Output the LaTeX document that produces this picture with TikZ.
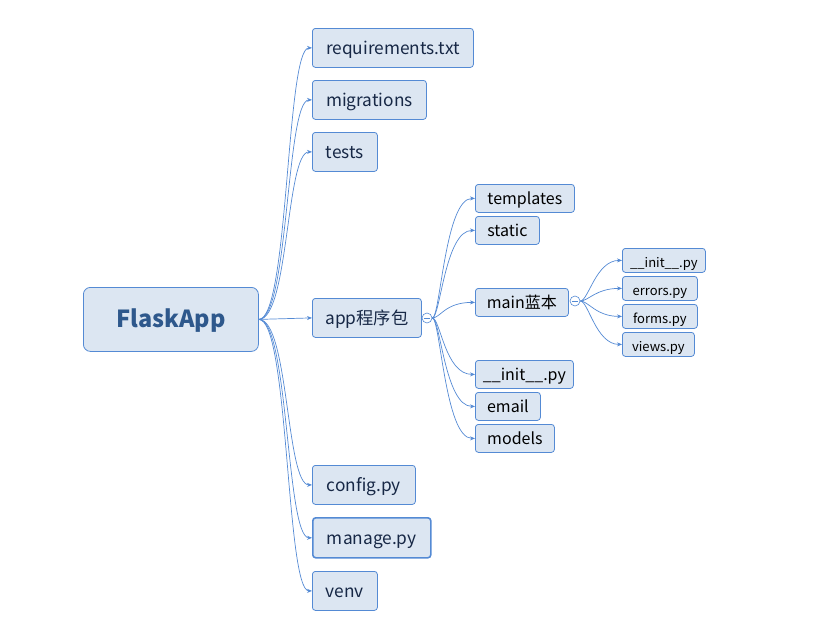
\documentclass[tikz,border=0pt]{standalone}
\usepackage{fontspec}
\setmainfont{Noto Sans CJK SC}
\usetikzlibrary{arrows.meta,calc}
\definecolor{bfill}{RGB}{220,230,242}
\definecolor{bline}{RGB}{84,138,212}
\definecolor{tdark}{RGB}{23,40,70}
\definecolor{troot}{RGB}{46,88,140}
\tikzset{
  base/.style={draw=bline, fill=bfill, rounded corners=3pt, anchor=north west, inner sep=0pt, line width=0.8pt},
  rootbox/.style={base, rounded corners=7pt, text=troot, font=\fontsize{23.5}{26}\selectfont\bfseries, text height=19pt, text depth=3.3pt},
  lvone/.style={base, text=tdark, font=\fontsize{17.3}{19}\selectfont, text height=15.6pt, text depth=2.4pt},
  lvtwo/.style={base, text=black, font=\fontsize{16}{18}\selectfont, text height=15pt, text depth=2.2pt},
  lvthree/.style={base, text=black, font=\fontsize{13}{15}\selectfont, text height=16pt, text depth=2pt},
  conn/.style={draw=bline, line width=0.7pt, -{Stealth[length=5pt,width=4pt]}},
  knob/.style={circle, draw=bline, fill=white, line width=0.6pt, minimum size=10pt, inner sep=0pt}
}
\begin{document}
\begin{tikzpicture}[x=1pt,y=-1pt]
\useasboundingbox (0,0) rectangle (828,629);
% root
\node[rootbox, minimum width=175, minimum height=64] (root) at (83,287) {FlaskApp};
% level 1
\node[lvone, minimum width=161, minimum height=39] (req) at (312,28) {requirements.txt};
\node[lvone, minimum width=114, minimum height=39] (mig) at (312,80) {migrations};
\node[lvone, minimum width=65, minimum height=39] (tst) at (312,132) {tests};
\node[lvone, minimum width=109, minimum height=39] (app) at (312,298) {app程序包};
\node[lvone, minimum width=103, minimum height=39] (cfg) at (312,465) {config.py};
\node[lvone, minimum width=118, minimum height=40, line width=1.6pt] (mng) at (312,517) {manage.py};
\node[lvone, minimum width=65, minimum height=39] (venv) at (312,571) {venv};
% level 2
\node[lvtwo, minimum width=99, minimum height=28] (tpl) at (475,184) {templates};
\node[lvtwo, minimum width=64, minimum height=28] (sta) at (475,216) {static};
\node[lvtwo, minimum width=93, minimum height=28] (mainb) at (475,288) {main蓝本};
\node[lvtwo, minimum width=98, minimum height=28] (ini) at (475,360) {\_\_init\_\_.py};
\node[lvtwo, minimum width=65, minimum height=28] (eml) at (475,392) {email};
\node[lvtwo, minimum width=79, minimum height=28] (mdl) at (475,424) {models};
% level 3
\node[lvthree, minimum width=83, minimum height=24] (mini) at (622,248) {\_\_init\_\_.py};
\node[lvthree, minimum width=75, minimum height=24] (merr) at (622,276) {errors.py};
\node[lvthree, minimum width=75, minimum height=24] (mfrm) at (622,304) {forms.py};
\node[lvthree, minimum width=72, minimum height=24] (mvw) at (622,332) {views.py};
% knobs
\node[knob] (kapp) at (427,318) {};
\node[knob] (kmain) at (575,301) {};
\draw[bline, line width=0.7pt] ($(kapp)+(-3,0)$) -- ($(kapp)+(3,0)$);
\draw[bline, line width=0.7pt] ($(kmain)+(-3,0)$) -- ($(kmain)+(3,0)$);
% root connectors
\draw[conn] (root.east) -- (app.west);
\foreach \t in {req,mig,tst,cfg,mng,venv}{
  \draw[conn] (root.east) .. controls ($(root.east)+(30,0)$) and ($(\t.west)+(-26,0)$) .. (\t.west);
}
% app connectors
\foreach \t in {tpl,sta,mainb,ini,eml,mdl}{
  \draw[conn] (kapp.east) .. controls ($(kapp.east)+(8,0)$) and ($(\t.west)+(-30,0)$) .. (\t.west);
}
% main connectors
\foreach \t in {mini,merr,mfrm,mvw}{
  \draw[conn] (kmain.east) .. controls ($(kmain.east)+(8,0)$) and ($(\t.west)+(-26,0)$) .. (\t.west);
}
\end{tikzpicture}
\end{document}
